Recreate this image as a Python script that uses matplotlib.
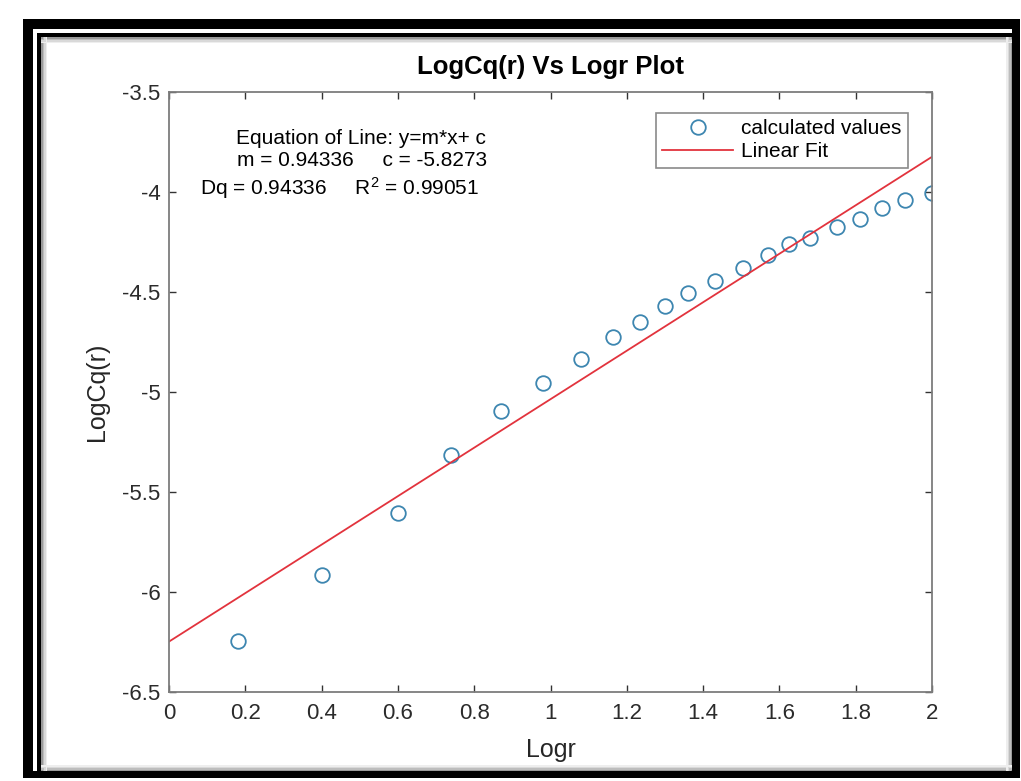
import numpy as np
import matplotlib
matplotlib.use("Agg")
import matplotlib.pyplot as plt
from matplotlib.patches import Rectangle

# LogCq(r) values
logr = [0.18, 0.40, 0.60, 0.74, 0.87, 0.98, 1.08, 1.165, 1.235, 1.30, 1.36,
        1.43, 1.505, 1.57, 1.625, 1.68, 1.75, 1.81, 1.87, 1.93, 2.0]
logcq = [-6.245, -5.915, -5.607, -5.315, -5.095, -4.955, -4.835, -4.725, -4.65,
         -4.57, -4.505, -4.445, -4.38, -4.315, -4.26, -4.23, -4.175, -4.135,
         -4.08, -4.04, -4.005]

# drawn fit line (slope / intercept as plotted)
fit_slope = 1.212
fit_intercept = -6.248
fit_range = [0, 2]

eq_lines = ["Equation of Line: y=m*x+ c",
            "m = 0.94336     c = -5.8273",
            r"Dq = 0.94336     R$^2$ = 0.99051"]

xticks = [0, 0.2, 0.4, 0.6, 0.8, 1, 1.2, 1.4, 1.6, 1.8, 2]
xticklabels = ["0", "0.2", "0.4", "0.6", "0.8", "1", "1.2", "1.4", "1.6", "1.8", "2"]
yticks = [-6.5, -6, -5.5, -5, -4.5, -4, -3.5]
yticklabels = ["-6.5", "-6", "-5.5", "-5", "-4.5", "-4", "-3.5"]

plt.rcParams['font.family'] = ['Liberation Sans', 'DejaVu Sans']
plt.rcParams['mathtext.fontset'] = 'custom'
plt.rcParams['mathtext.rm'] = 'Liberation Sans'
plt.rcParams['mathtext.it'] = 'Liberation Sans'

W, H = 1021, 781
fig = plt.figure(figsize=(W / 100, H / 100), dpi=100)
fig.patch.set_facecolor("white")

def box(x0, y0, x1, y1, color):
    # rectangle given in image pixels (origin top left)
    fig.add_artist(Rectangle((x0 / W, 1 - y1 / H), (x1 - x0) / W, (y1 - y0) / H,
                             transform=fig.transFigure, facecolor=color,
                             edgecolor="none", zorder=0))

# soft shadow inside the frame, darkest next to the black lines
shades = ["#9a9a9a", "#bdbdbd", "#d9d9d9", "#eeeeee"]
for i, c in enumerate(shades):
    box(41 + i * 1.5, 37, 42.5 + i * 1.5, 771, c)              # left
    box(41, 37 + i * 1.5, 1012, 38.5 + i * 1.5, c)             # top
    box(41, 769.5 - i * 1.5, 1012, 771 - i * 1.5, c)           # bottom
    box(1010.5 - i * 1.5, 37, 1012 - i * 1.5, 771, c)          # right
# inner thin line
box(37, 33, 41, 771, "black")
box(37, 33, 1012, 37, "black")
# outer thick frame
box(23, 19, 33, 778, "black")
box(23, 19, 1020, 29, "black")
box(1012, 19, 1020, 778, "black")
box(23, 771, 1020, 778, "black")

ax = fig.add_axes([169 / W, 1 - 692 / H, 763 / W, 600 / H])

ax.plot(logr, logcq, "o", markersize=10.5, markerfacecolor="none",
        markeredgecolor="#3d86b0", markeredgewidth=1.3, label="calculated values")
fx = np.array(fit_range, dtype=float)
ax.plot(fx, fit_slope * fx + fit_intercept, color="#e2333d", linewidth=1.3,
        label="Linear Fit")

ax.set_xlim(0, 2)
ax.set_ylim(-6.5, -3.5)
ax.set_xticks(xticks)
ax.set_xticklabels(xticklabels)
ax.set_yticks(yticks)
ax.set_yticklabels(yticklabels)

for sp in ax.spines.values():
    sp.set_color("#7d7d7d")
    sp.set_linewidth(1.3)
ax.tick_params(direction="in", length=5, width=1, color="#333333",
               top=True, right=True, labelsize=16, labelcolor="#2b2b2b")
ax.tick_params(axis="x", pad=8)
ax.tick_params(axis="y", pad=6)

ax.set_title("LogCq(r) Vs Logr Plot", fontsize=18.5, fontweight="bold", pad=13)
ax.set_xlabel("Logr", fontsize=18, color="#262626", labelpad=10)
ax.set_ylabel("LogCq(r)", fontsize=18, color="#262626", labelpad=10)

# equation text
ax.text((236 - 169) / 763, (692 - 138) / 600, eq_lines[0], transform=ax.transAxes,
        fontsize=15, ha="left", va="center")
ax.text((237 - 169) / 763, (692 - 160) / 600, eq_lines[1], transform=ax.transAxes,
        fontsize=15, ha="left", va="center")
ax.text((200 - 169) / 763, (692 - 188) / 600, eq_lines[2], transform=ax.transAxes,
        fontsize=15, ha="left", va="center")

leg = ax.legend(loc="upper right", bbox_to_anchor=((908 - 169) / 763, (692 - 113) / 600),
                fontsize=15, frameon=True, fancybox=False, framealpha=1,
                edgecolor="#8a8a8a", handlelength=3.4, handletextpad=0.4,
                borderaxespad=0, borderpad=0.3, labelspacing=0.2)
leg.get_frame().set_linewidth(1.2)

fig.savefig("out.png", dpi=100)
